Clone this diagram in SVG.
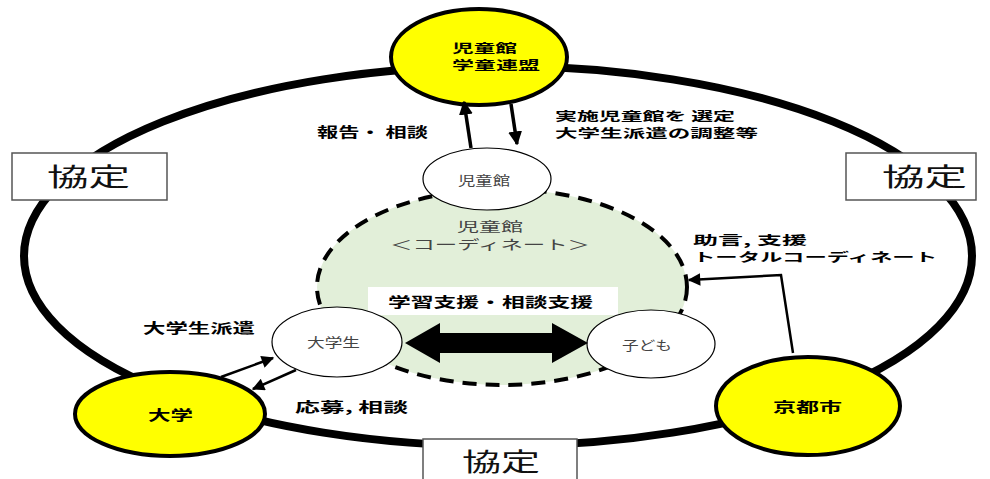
<svg xmlns="http://www.w3.org/2000/svg" width="990" height="479" viewBox="0 0 990 479">
<style>
.b{font-family:"Noto Sans CJK JP","Noto Sans CJK SC",sans-serif;font-weight:bold;font-size:13.5px;fill:#000}
.b2{font-family:"Noto Sans CJK JP","Noto Sans CJK SC",sans-serif;font-weight:bold;font-size:12px;fill:#000}
.g{font-family:"Noto Sans CJK JP","Noto Sans CJK SC",sans-serif;font-size:13px;fill:#444}
.k{font-family:"Noto Sans CJK JP","Noto Sans CJK SC",sans-serif;font-size:25px;fill:#111}
.yel{fill:#ffff00;stroke:#000;stroke-width:4}
.wc{fill:#fff;stroke:#000;stroke-width:1.2}
.box{fill:#fff;stroke:#555;stroke-width:1.5}
.ln{stroke:#000;fill:none}
</style>
<defs>
<marker id="ah" viewBox="0 0 10 10" refX="9" refY="5" markerWidth="4" markerHeight="4" orient="auto" markerUnits="strokeWidth">
<path d="M0,0 L10,5 L0,10 z" fill="#000"/>
</marker>
<marker id="ahs" viewBox="0 0 10 10" refX="9" refY="5" markerWidth="6" markerHeight="5" orient="auto" markerUnits="strokeWidth">
<path d="M0,0 L10,5 L0,10 z" fill="#000"/>
</marker>
</defs>
<rect width="990" height="479" fill="#fff"/>
<g id="outer">
<ellipse cx="498" cy="256" rx="474" ry="190" fill="none" stroke="#000" stroke-width="8"/>
</g>
<g id="coordinate">
<ellipse cx="502" cy="287" rx="185" ry="98" fill="#e2efd9" stroke="#000" stroke-width="4" stroke-dasharray="14 9"/>
<text class="g" x="457" y="231" textLength="66" lengthAdjust="spacingAndGlyphs" font-size="12.5">児童館</text>
<text class="g" x="390" y="249" textLength="200" lengthAdjust="spacingAndGlyphs" font-size="12.5">＜コーディネート＞</text>
</g>
<g id="support-label">
<rect x="368" y="287" width="250" height="28" fill="#fff"/>
<text class="b" x="388" y="307" textLength="205" lengthAdjust="spacingAndGlyphs" font-size="15">学習支援・相談支援</text>
</g>
<g id="jidokan">
<ellipse class="wc" cx="487" cy="179" rx="64" ry="31"/>
<text class="g" x="458" y="185" textLength="52" lengthAdjust="spacingAndGlyphs">児童館</text>
</g>
<g id="renmei">
<ellipse class="yel" cx="479" cy="57" rx="88" ry="48"/>
<text class="b2" x="452" y="53" textLength="65" lengthAdjust="spacingAndGlyphs">児童館</text>
<text class="b2" x="452" y="70" textLength="88" lengthAdjust="spacingAndGlyphs">学童連盟</text>
</g>
<g id="gakusei">
<ellipse class="wc" cx="337" cy="342" rx="65" ry="35"/>
<text class="g" x="307" y="347" textLength="53" lengthAdjust="spacingAndGlyphs">大学生</text>
</g>
<g id="kodomo">
<ellipse class="wc" cx="651" cy="344" rx="64" ry="34"/>
<text class="g" x="622" y="350" textLength="50" lengthAdjust="spacingAndGlyphs">子ども</text>
</g>
<g id="daigaku">
<ellipse class="yel" cx="170" cy="414" rx="95" ry="42"/>
<text class="b" x="148" y="420" textLength="45" lengthAdjust="spacingAndGlyphs" font-size="15">大学</text>
</g>
<g id="kyoto">
<ellipse class="yel" cx="808" cy="406" rx="92" ry="49"/>
<text class="b" x="773" y="412" textLength="69" lengthAdjust="spacingAndGlyphs" font-size="15">京都市</text>
</g>
<g id="kyotei-left">
<rect class="box" x="12" y="153" width="155" height="47"/>
<text class="k" x="47" y="186" textLength="83" lengthAdjust="spacingAndGlyphs">協定</text>
</g>
<g id="kyotei-right">
<rect class="box" x="846" y="153" width="130" height="47"/>
<text class="k" x="882" y="186" textLength="85" lengthAdjust="spacingAndGlyphs">協定</text>
</g>
<g id="kyotei-bottom">
<rect class="box" x="423" y="439" width="154" height="45"/>
<text class="k" x="462" y="471" textLength="78" lengthAdjust="spacingAndGlyphs">協定</text>
</g>
<g id="connectors">
<polygon points="405,343 440,323 440,333 552,333 552,323 588,343 552,363 552,353 440,353 440,363" fill="#000"/>
<line class="ln" x1="471" y1="148" x2="464" y2="102" stroke-width="3.5" marker-end="url(#ah)"/>
<line class="ln" x1="511" y1="104" x2="517" y2="144" stroke-width="3.5" marker-end="url(#ah)"/>
<polyline class="ln" points="793,353 781,275 689,280" stroke-width="2.5" marker-end="url(#ahs)"/>
<line class="ln" x1="221" y1="377" x2="273" y2="358" stroke-width="2.5" marker-end="url(#ahs)"/>
<line class="ln" x1="296" y1="370" x2="253" y2="389" stroke-width="2.5" marker-end="url(#ahs)"/>
</g>
<g id="labels">
<text class="b" x="317" y="137" textLength="111" lengthAdjust="spacingAndGlyphs">報告・ 相談</text>
<text class="b2" x="555" y="121" textLength="180" lengthAdjust="spacingAndGlyphs">実施児童館を 選定</text>
<text class="b2" x="555" y="138" textLength="203" lengthAdjust="spacingAndGlyphs">大学生派遣の調整等</text>
<text class="b2" x="693" y="245" textLength="114" lengthAdjust="spacingAndGlyphs">助言, 支援</text>
<text class="b2" x="693" y="262" textLength="244" lengthAdjust="spacingAndGlyphs">トータルコーディネート</text>
<text class="b" x="143" y="333" textLength="112" lengthAdjust="spacingAndGlyphs">大学生派遣</text>
<text class="b" x="295" y="412" textLength="113" lengthAdjust="spacingAndGlyphs">応募, 相談</text>
</g>
</svg>
